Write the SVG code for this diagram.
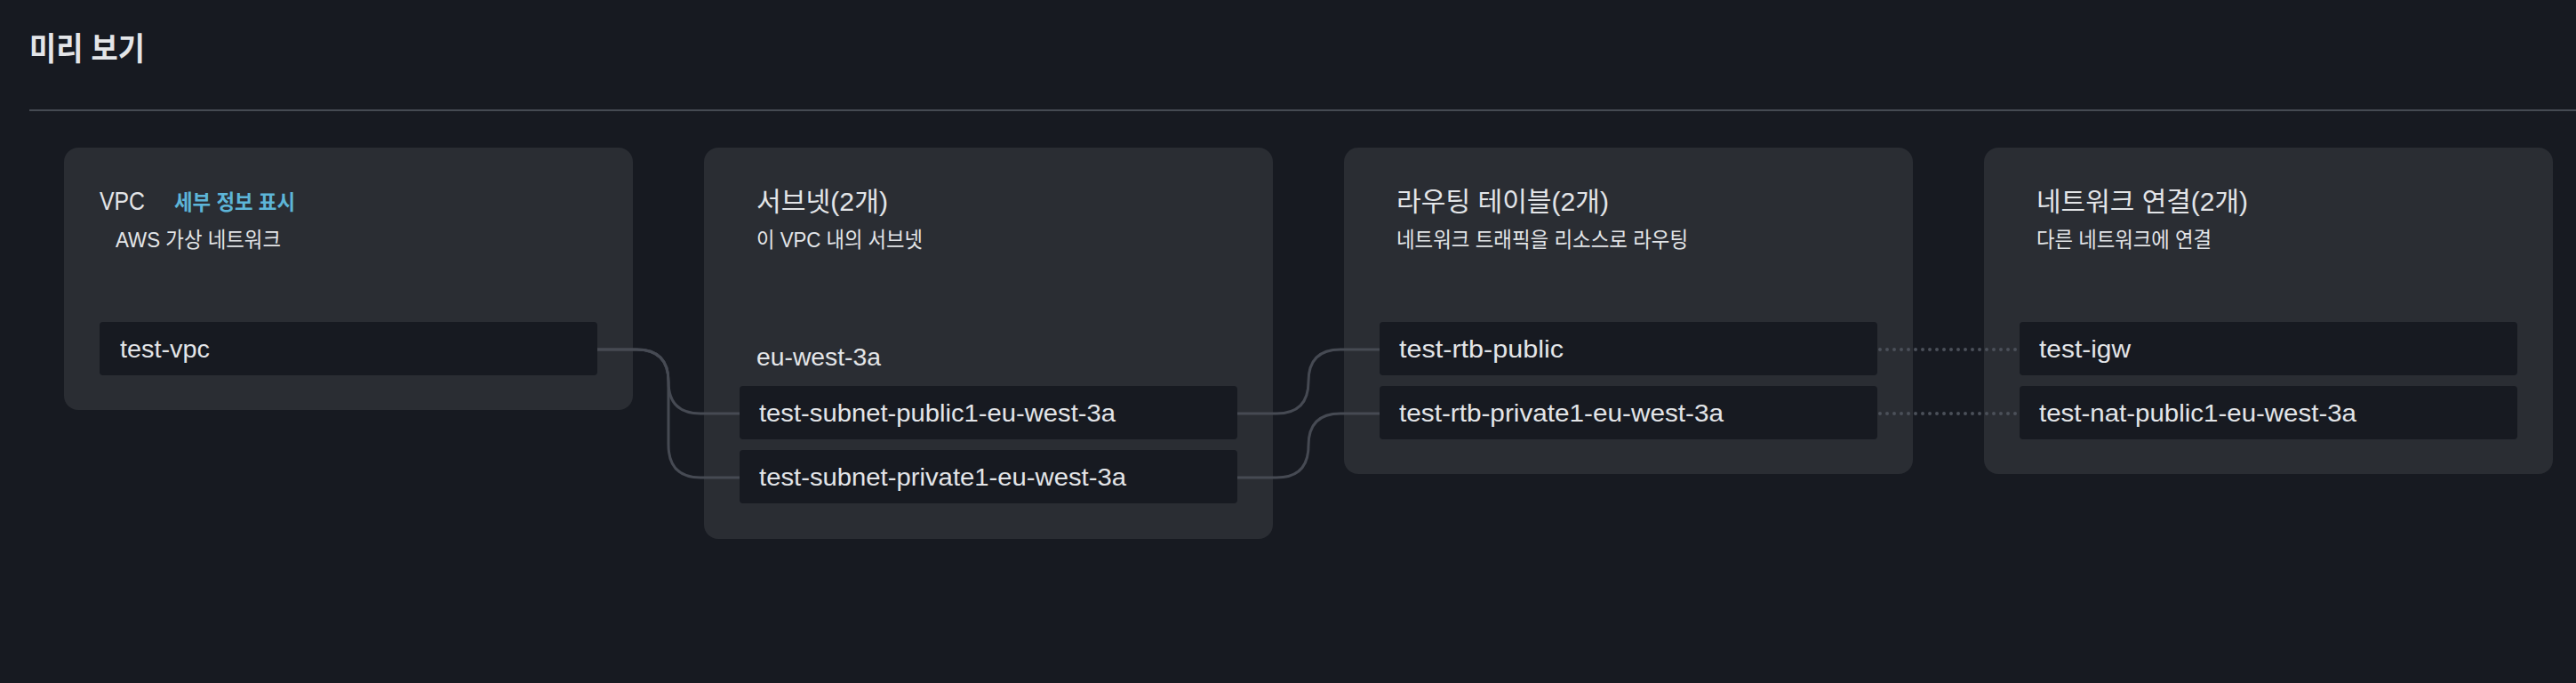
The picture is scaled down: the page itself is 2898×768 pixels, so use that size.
<svg xmlns="http://www.w3.org/2000/svg" width="2898" height="768" viewBox="0 0 2898 768">
<style>
.bg{fill:#171a21}
.card{fill:#2a2d33}
.box{fill:#171a21}
text{font-family:"Liberation Sans","Noto Sans CJK KR",sans-serif;fill:#e3e5e8}
.h{font-size:36px;font-weight:bold}
.t{font-size:30px}
.s{font-size:24px}
.i{font-size:28px}
.lnk{font-size:24px;font-weight:bold;fill:#5db5d8}
.c{fill:none;stroke:#464a53;stroke-width:3}
.d{fill:none;stroke:#4b5059;stroke-width:4;stroke-linecap:round;stroke-dasharray:0 8}
</style>
<rect class="bg" x="0" y="0" width="2898" height="768"/>
<g id="header">
<text class="h" x="33" y="68" textLength="130" lengthAdjust="spacingAndGlyphs">미리 보기</text>
<rect x="33" y="123" width="2865" height="2" fill="#454a52"/>
</g>
<g id="vpc">
<rect class="card" x="72" y="166" width="640" height="295" rx="16"/>
<text class="t" x="112" y="236" textLength="51" lengthAdjust="spacingAndGlyphs">VPC</text>
<text class="lnk" x="196" y="236" textLength="136" lengthAdjust="spacingAndGlyphs">세부 정보 표시</text>
<text class="s" x="130" y="278" textLength="186" lengthAdjust="spacingAndGlyphs">AWS 가상 네트워크</text>
<rect class="box" x="112" y="362" width="560" height="60" rx="4"/>
<text class="i" x="135" y="402" textLength="101" lengthAdjust="spacingAndGlyphs">test-vpc</text>
</g>
<g id="subnets">
<rect class="card" x="792" y="166" width="640" height="440" rx="16"/>
<text class="t" x="851" y="237" textLength="148" lengthAdjust="spacingAndGlyphs">서브넷(2개)</text>
<text class="s" x="851" y="278" textLength="187" lengthAdjust="spacingAndGlyphs">이 VPC 내의 서브넷</text>
<text class="i" x="851" y="411" textLength="140" lengthAdjust="spacingAndGlyphs">eu-west-3a</text>
<rect class="box" x="832" y="434" width="560" height="60" rx="4"/>
<text class="i" x="854" y="474" textLength="401" lengthAdjust="spacingAndGlyphs">test-subnet-public1-eu-west-3a</text>
<rect class="box" x="832" y="506" width="560" height="60" rx="4"/>
<text class="i" x="854" y="546" textLength="413" lengthAdjust="spacingAndGlyphs">test-subnet-private1-eu-west-3a</text>
</g>
<g id="routetables">
<rect class="card" x="1512" y="166" width="640" height="367" rx="16"/>
<text class="t" x="1571" y="237" textLength="239" lengthAdjust="spacingAndGlyphs">라우팅 테이블(2개)</text>
<text class="s" x="1571" y="278" textLength="328" lengthAdjust="spacingAndGlyphs">네트워크 트래픽을 리소스로 라우팅</text>
<rect class="box" x="1552" y="362" width="560" height="60" rx="4"/>
<text class="i" x="1574" y="402" textLength="185" lengthAdjust="spacingAndGlyphs">test-rtb-public</text>
<rect class="box" x="1552" y="434" width="560" height="60" rx="4"/>
<text class="i" x="1574" y="474" textLength="365" lengthAdjust="spacingAndGlyphs">test-rtb-private1-eu-west-3a</text>
</g>
<g id="connections">
<rect class="card" x="2232" y="166" width="640" height="367" rx="16"/>
<text class="t" x="2291" y="237" textLength="238" lengthAdjust="spacingAndGlyphs">네트워크 연결(2개)</text>
<text class="s" x="2291" y="278" textLength="197" lengthAdjust="spacingAndGlyphs">다른 네트워크에 연결</text>
<rect class="box" x="2272" y="362" width="560" height="60" rx="4"/>
<text class="i" x="2294" y="402" textLength="103" lengthAdjust="spacingAndGlyphs">test-igw</text>
<rect class="box" x="2272" y="434" width="560" height="60" rx="4"/>
<text class="i" x="2294" y="474" textLength="357" lengthAdjust="spacingAndGlyphs">test-nat-public1-eu-west-3a</text>
</g>
<g id="connectors">
<path class="c" d="M672,393 H716 Q752,393 752,429 Q752,465 788,465 H832"/>
<path class="c" d="M672,393 H716 Q752,393 752,429 V500 Q752,537 788,537 H832"/>
<path class="c" d="M1392,465 H1436 Q1472,465 1472,429 Q1472,393 1508,393 H1552"/>
<path class="c" d="M1392,537 H1436 Q1472,537 1472,501 Q1472,465 1508,465 H1552"/>
<path class="d" d="M2115,393 H2270"/>
<path class="d" d="M2115,465 H2270"/>
</g>
</svg>
